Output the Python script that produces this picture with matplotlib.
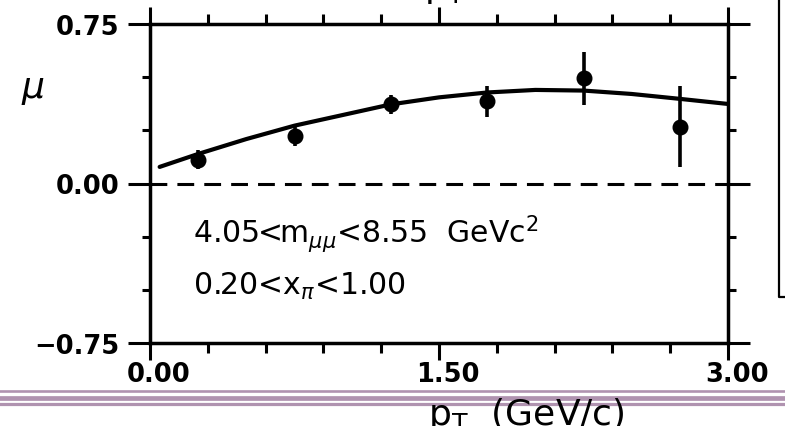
import matplotlib
matplotlib.use("Agg")
import matplotlib.pyplot as plt
import matplotlib.transforms as mtransforms
from matplotlib.lines import Line2D
from matplotlib.ticker import FixedLocator, FixedFormatter, MultipleLocator

# measured mu vs pT
pt_x = [0.25, 0.75, 1.25, 1.75, 2.25, 2.75]
pt_y = [0.112, 0.223, 0.372, 0.387, 0.495, 0.267]
pt_err = [0.045, 0.045, 0.045, 0.073, 0.124, 0.19]

# fitted curve
fit_x = [0.05, 0.25, 0.50, 0.75, 1.00, 1.25, 1.50, 1.75, 2.00, 2.25, 2.50, 2.75, 3.00]
fit_y = [0.078, 0.139, 0.209, 0.272, 0.322, 0.372, 0.405, 0.428, 0.440, 0.437, 0.421, 0.398, 0.374]

xticks = [0.0, 1.5, 3.0]
xtick_labels = ["0.00", "1.50", "3.00"]
yticks = [-0.75, 0.0, 0.75]
ytick_labels = ["\u22120.75", "0.00", "0.75"]

W, H = 785, 427
fig = plt.figure(figsize=(W / 100, H / 100), dpi=100)
fig.patch.set_facecolor("white")

ax = fig.add_axes([150 / W, 1 - 344 / H, (728 - 150) / W, (344 - 25) / H])
ax.set_xlim(0, 3)
ax.set_ylim(-0.75, 0.75)

for s in ax.spines.values():
    s.set_linewidth(2.5)
    s.set_color("black")

ax.axhline(0, color="black", lw=2.2, linestyle=(0, (5.5, 3.3)))

ax.plot(fit_x, fit_y, color="black", lw=3.0, solid_capstyle="round")
ax.errorbar(pt_x, pt_y, yerr=pt_err, fmt="o", color="black", ms=10.5,
            elinewidth=2.6, capsize=0)

# ticks all pointing outward, on every side
ax.xaxis.set_major_locator(FixedLocator(xticks))
ax.xaxis.set_major_formatter(FixedFormatter(xtick_labels))
ax.yaxis.set_major_locator(FixedLocator(yticks))
ax.yaxis.set_major_formatter(FixedFormatter(ytick_labels))
ax.xaxis.set_minor_locator(MultipleLocator(0.3))
ax.yaxis.set_minor_locator(MultipleLocator(0.25))

ax.tick_params(axis="both", which="both", direction="out", top=True, right=True,
               width=2.2, color="black")
ax.tick_params(axis="x", which="major", length=12, pad=1,
               labelsize=18.5, labeltop=False)
ax.tick_params(axis="y", which="major", length=16, pad=6,
               labelsize=18.5, labelright=False)
ax.tick_params(axis="x", which="minor", length=7)
ax.tick_params(axis="y", which="minor", length=6)
for lab in ax.get_xticklabels() + ax.get_yticklabels():
    lab.set_fontweight("bold")
shift = mtransforms.ScaledTranslation(9 / 100, 0, fig.dpi_scale_trans)
for lab in ax.get_xticklabels():
    lab.set_transform(lab.get_transform() + shift)

# cut labels inside the frame
fig.text(193 / W, 1 - 243 / H, r"4.05<m$_{\mu\mu}$<8.55  GeVc$^{2}$",
         fontsize=21.5, ha="left", va="baseline")
fig.text(193 / W, 1 - 295 / H, r"0.20<x$_{\pi}$<1.00", fontsize=21.5,
         ha="left", va="baseline")

fig.text(33 / W, 1 - 90 / H, r"$\mu$", fontsize=26, ha="center", va="center")
fig.text(428 / W, 1 - 425 / H, r"p$_{\mathrm{T}}$  (GeV/c)", fontsize=26,
         ha="left", va="baseline")
fig.text(424 / W, 1 + 3 / H, r"p$_{\mathrm{T}}$ <", fontsize=26,
         ha="left", va="baseline")

# side frame
fig.add_artist(Line2D([779 / W, 779 / W, 1.01], [1.01, 1 - 298 / H, 1 - 298 / H],
                      transform=fig.transFigure, color="black", lw=1.6))

# purple rules across the bottom
for yy, lw in [(392.3, 1.9), (398.8, 3.4), (405.2, 2.3)]:
    fig.add_artist(Line2D([0, 1], [1 - yy / H, 1 - yy / H],
                          transform=fig.transFigure, color="#b093b0", lw=lw))

fig.savefig("out.png", dpi=100, facecolor="white")
